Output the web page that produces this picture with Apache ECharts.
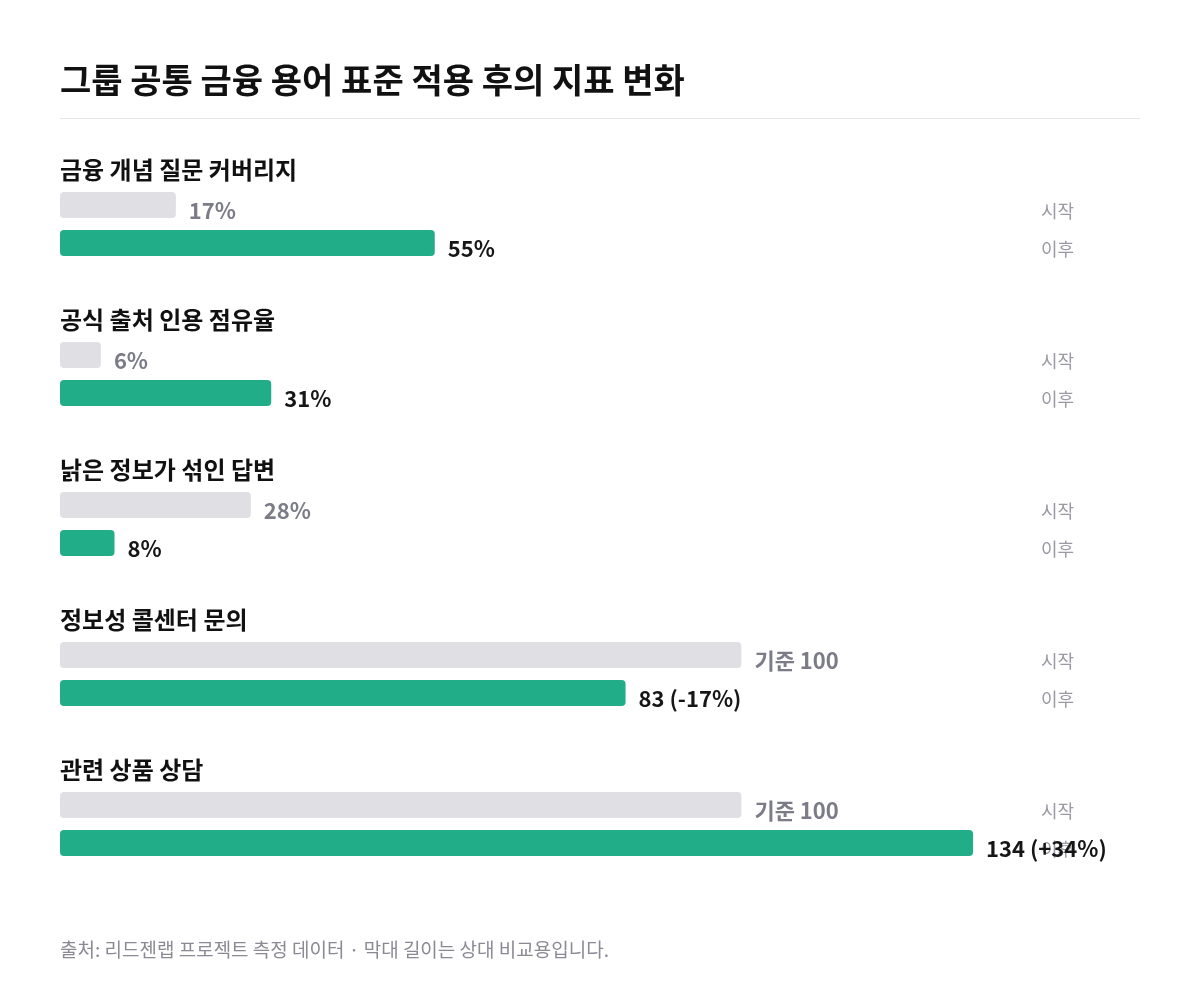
<!DOCTYPE html>
<html>
<head>
<meta charset="utf-8">
<script src="https://cdn.jsdelivr.net/npm/echarts@6/dist/echarts.min.js"></script>
<style>
html,body{margin:0;padding:0;background:#fff;}
#chart{width:1200px;height:990px;}
</style>
</head>
<body>
<div id="chart"></div>
<script>
const chartTitle = '그룹 공통 금융 용어 표준 적용 후의 지표 변화';
const footnote = '출처: 리드젠랩 프로젝트 측정 데이터 · 막대 길이는 상대 비교용입니다.';
const groups = ['금융 개념 질문 커버리지', '공식 출처 인용 점유율', '낡은 정보가 섞인 답변', '정보성 콜센터 문의', '관련 상품 상담'];
const rowLabels = ['시작', '이후'];
const startValues = [17, 6, 28, 100, 100];
const afterValues = [55, 31, 8, 83, 134];
const startLabels = ['17%', '6%', '28%', '기준 100', '기준 100'];
const afterLabels = ['55%', '31%', '8%', '83 (-17%)', '134 (+34%)'];

const FONT = '"Noto Sans CJK KR", "Noto Sans", sans-serif';
const GRAY_BAR = '#dfdfe4';
const GREEN = '#20ad87';
const GRAY_TXT = '#7c7c88';
const DARK_TXT = '#161616';

const chart = echarts.init(document.getElementById('chart'), null, {renderer: 'canvas'});

const titles = [{
  text: chartTitle, left: 60, top: 63, padding: 0,
  textStyle: {fontFamily: FONT, fontSize: 34, fontWeight: 700, color: '#111'}
}];
const grids = [], xAxes = [], yAxes = [], series = [];
groups.forEach((g, i) => {
  titles.push({
    text: g, left: 60, top: 158 + 150 * i, padding: 0,
    textStyle: {fontFamily: FONT, fontSize: 24, fontWeight: 700, color: '#111'}
  });
  grids.push({left: 60, width: 1080, top: 186 + 150 * i, height: 76});
  xAxes.push({type: 'value', gridIndex: i, min: 0, max: 158.5, show: false});
  yAxes.push({
    type: 'category', gridIndex: i, data: rowLabels, inverse: true, position: 'right',
    axisLine: {show: false}, axisTick: {show: false}, splitLine: {show: false},
    axisLabel: {inside: true, margin: 66, fontFamily: FONT, fontSize: 18, color: '#9a9aa5',
      verticalAlign: 'top', lineHeight: 12}
  });
  series.push({
    type: 'bar', xAxisIndex: i, yAxisIndex: i, barWidth: 26,
    data: [
      {value: startValues[i], itemStyle: {color: GRAY_BAR},
       label: {formatter: startLabels[i], color: GRAY_TXT}},
      {value: afterValues[i], itemStyle: {color: GREEN},
       label: {formatter: afterLabels[i], color: DARK_TXT}}
    ],
    itemStyle: {borderRadius: 4},
    label: {show: true, position: 'right', distance: 13, offset: [0, 6],
      fontFamily: FONT, fontSize: 22, fontWeight: 700},
    silent: true, animation: false
  });
});

chart.setOption({
  backgroundColor: '#fff',
  animation: false,
  title: titles,
  grid: grids,
  xAxis: xAxes,
  yAxis: yAxes,
  series: series,
  graphic: [
    {type: 'line', shape: {x1: 60, y1: 118.5, x2: 1140, y2: 118.5}, style: {stroke: '#e6e6ea', lineWidth: 1}},
    {type: 'text', left: 60, top: 940, style: {text: footnote, font: '400 19px ' + FONT, fill: '#8a8a95'}}
  ]
});
</script>
</body>
</html>
